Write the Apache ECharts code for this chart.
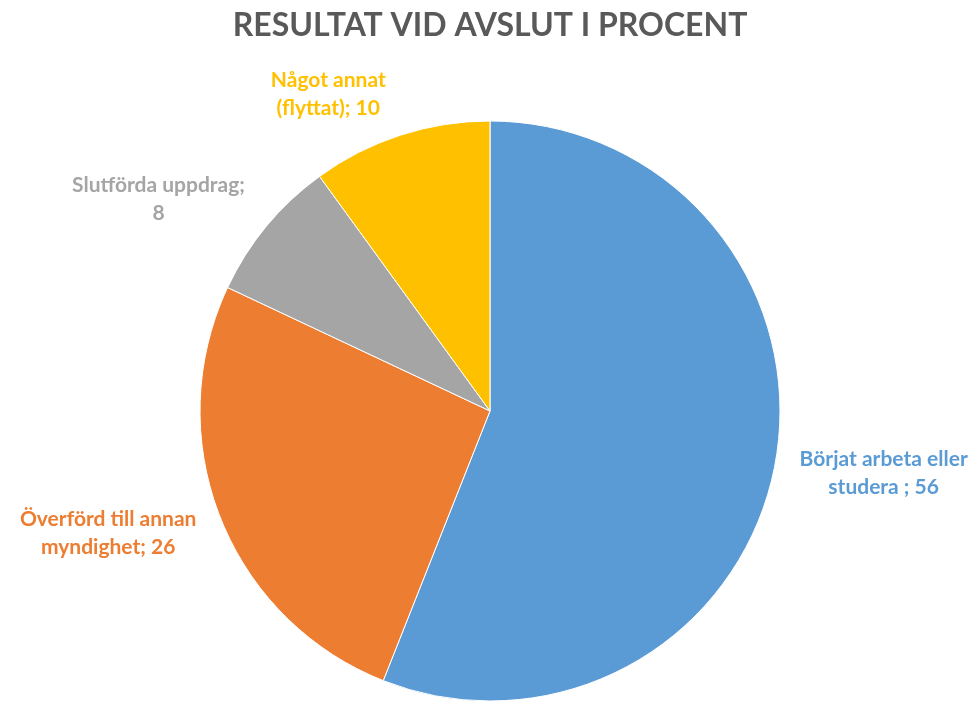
<!DOCTYPE html>
<html>
<head>
<meta charset="utf-8">
<script src="https://cdn.jsdelivr.net/npm/echarts@6/dist/echarts.min.js"></script>
<style>html,body{margin:0;padding:0;background:#fff}#c{width:980px;height:703px}</style>
</head>
<body>
<div id="c"></div>
<script>
const titleText = 'RESULTAT VID AVSLUT I PROCENT';
const categories = ['Börjat arbeta eller studera', 'Överförd till annan myndighet', 'Slutförda uppdrag', 'Något annat (flyttat)'];
const labelLines = [['Börjat arbeta eller', 'studera ; 56'], ['Överförd till annan', 'myndighet; 26'], ['Slutförda uppdrag;', '8'], ['Något annat', '(flyttat); 10']];
const values = [56, 26, 8, 10];
const colors = ['#5B9BD5', '#ED7D31', '#A5A5A5', '#FFC000'];

const total = values.reduce((a, b) => a + b, 0);
const midAngles = [];
let acc = 0;
values.forEach(v => { midAngles.push((acc + v / 2) / total * 2 * Math.PI); acc += v; });

const chart = echarts.init(document.getElementById('c'));
chart.setOption({
  animation: false,
  title: {
    text: titleText, left: 'center', top: 5,
    textStyle: { fontFamily: 'Lato', fontWeight: 'bold', fontSize: 32, color: '#595959' }
  },
  series: [{
    type: 'pie',
    center: [490, 411],
    radius: 290,
    startAngle: 90,
    clockwise: true,
    avoidLabelOverlap: false,
    itemStyle: { borderColor: '#fff', borderWidth: 1 },
    label: {
      show: true, position: 'outside',
      fontFamily: 'Lato', fontWeight: 'bold', fontSize: 21, lineHeight: 28,
      distanceToLabelLine: 5,
      formatter: p => labelLines[p.dataIndex].join('\n')
    },
    labelLine: { show: false, length: 15, length2: 5 },
    labelLayout: function (p) {
      const r = p.labelRect;
      const uy = -Math.cos(midAngles[p.dataIndex]);
      return { x: r.x + r.width / 2, y: r.y + r.height / 2 + uy * r.height * 0.5, align: 'center', verticalAlign: 'middle' };
    },
    data: categories.map((n, i) => ({ name: n, value: values[i], itemStyle: { color: colors[i] }, label: { color: colors[i] } }))
  }]
});
</script>
</body>
</html>
